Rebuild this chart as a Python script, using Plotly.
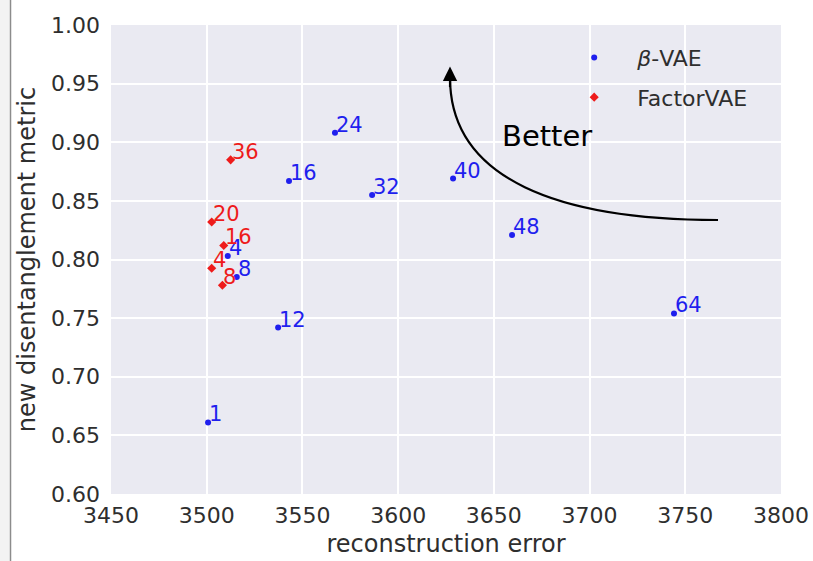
import plotly.graph_objects as go

# beta-VAE results
beta_labels = ["1", "4", "8", "12", "16", "24", "32", "40", "48", "64"]
beta_recon = [3500.7, 3511.0, 3515.7, 3537.3, 3543.0, 3567.0, 3586.4, 3628.7, 3659.5, 3744.1]
beta_metric = [0.661, 0.803, 0.785, 0.742, 0.867, 0.908, 0.855, 0.869, 0.821, 0.754]

# FactorVAE results
factor_labels = ["4", "8", "16", "20", "36"]
factor_recon = [3502.6, 3508.2, 3508.9, 3502.6, 3512.5]
factor_metric = [0.7925, 0.778, 0.812, 0.832, 0.885]

x_ticks = [3450, 3500, 3550, 3600, 3650, 3700, 3750, 3800]
y_ticks = [0.60, 0.65, 0.70, 0.75, 0.80, 0.85, 0.90, 0.95, 1.00]

BLUE = "#1f1fee"
RED = "#ee1b1b"
TXT = "#2e2e2e"
FONT = "DejaVu Sans"

fig = go.Figure()
fig.add_trace(go.Scatter(
    x=beta_recon, y=beta_metric, mode="markers", name="<i>β</i>-VAE",
    marker=dict(color=BLUE, size=6, symbol="circle"), legendgroup="a"))
fig.add_trace(go.Scatter(
    x=factor_recon, y=factor_metric, mode="markers", name="FactorVAE",
    marker=dict(color=RED, size=7, symbol="diamond"), legendgroup="b"))

annotations = []
for lab, xv, yv in zip(beta_labels, beta_recon, beta_metric):
    annotations.append(dict(x=xv, y=yv, text=lab, showarrow=False, xanchor="left",
                            yanchor="bottom", yshift=-6, xshift=-1,
                            font=dict(family=FONT, size=21, color=BLUE)))
for lab, xv, yv in zip(factor_labels, factor_recon, factor_metric):
    annotations.append(dict(x=xv, y=yv, text=lab, showarrow=False, xanchor="left",
                            yanchor="bottom", yshift=-6, xshift=-1,
                            font=dict(family=FONT, size=21, color=RED)))

# "Better" arrow
annotations.append(dict(x=3627.1, y=0.9645, ax=0, ay=22, axref="pixel", ayref="pixel",
                        showarrow=True, arrowhead=2, arrowsize=1.3, arrowwidth=2.2,
                        arrowcolor="black", text=""))
annotations.append(dict(x=3653, y=0.905, text="Better", showarrow=False, xanchor="left",
                        yanchor="middle", font=dict(family=FONT, size=29, color="black")))

shapes = [
    dict(type="path", xref="x", yref="y",
         path="M 3767.1 0.8337 C 3684.6 0.8337 3627.1 0.8678 3627.1 0.955",
         line=dict(color="black", width=2.2)),
    dict(type="rect", xref="paper", yref="paper", x0=-0.17, x1=-0.1515, y0=-0.15, y1=1.06,
         fillcolor="#f3f3f3", line=dict(width=0), layer="above"),
    dict(type="line", xref="paper", yref="paper", x0=-0.1500, x1=-0.1500, y0=-0.15, y1=1.06,
         line=dict(color="#8c8c8c", width=1.5), layer="above"),
]

fig.update_layout(
    width=813, height=561,
    margin=dict(l=111, r=32, t=25, b=67, autoexpand=False),
    paper_bgcolor="white", plot_bgcolor="#EAEAF2",
    font=dict(family=FONT, color=TXT),
    showlegend=True,
    legend=dict(x=0.657, y=0.975, xanchor="left", yanchor="top",
                bgcolor="rgba(0,0,0,0)", font=dict(family=FONT, size=22, color=TXT),
                traceorder="grouped", tracegroupgap=8, itemwidth=76),
    annotations=annotations, shapes=shapes,
)
fig.update_xaxes(range=[3450, 3800], tickvals=x_ticks, ticktext=[str(v) for v in x_ticks],
                 showgrid=True, gridcolor="white", gridwidth=1.5, zeroline=False,
                 showline=False, ticks="", tickfont=dict(family=FONT, size=22, color=TXT),
                 ticklabelstandoff=6, automargin=False,
                 title=dict(text="reconstruction error", font=dict(family=FONT, size=24, color=TXT),
                            standoff=8))
fig.update_yaxes(range=[0.60, 1.00], tickvals=y_ticks, ticktext=[f"{v:.2f}" for v in y_ticks],
                 showgrid=True, gridcolor="white", gridwidth=1.5, zeroline=False,
                 showline=False, ticks="", tickfont=dict(family=FONT, size=22, color=TXT),
                 ticklabelstandoff=10, automargin=False,
                 title=dict(text="new disentanglement metric", font=dict(family=FONT, size=24, color=TXT),
                            standoff=8))

fig.write_html("out.html")
